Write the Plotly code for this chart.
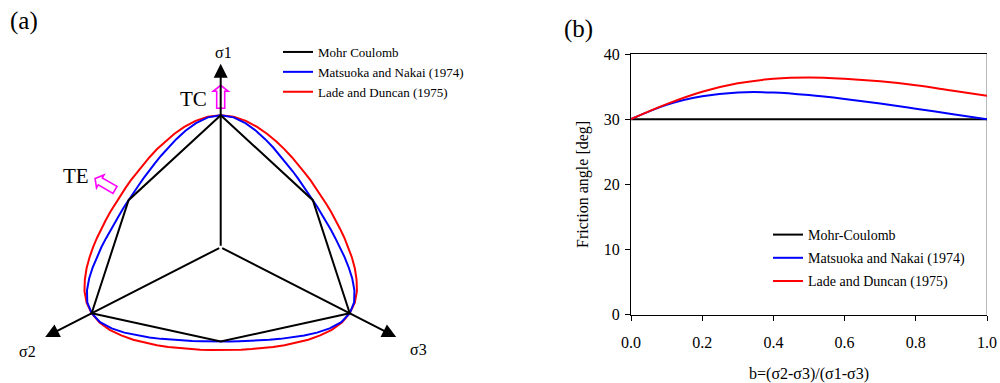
import numpy as np
import plotly.graph_objects as go

# ---------------- data ----------------
# Panel (a): deviatoric-plane radius (TC radius = 1) vs Lode angle from TC (0) to TE (60 deg)
lode_angle_deg = [0, 5, 10, 15, 20, 25, 30, 35, 40, 45, 50, 55, 60]
r_matsuoka_nakai = [1.000, 0.988, 0.955, 0.914, 0.872, 0.834, 0.801, 0.773, 0.752, 0.735, 0.723, 0.717, 0.714]
r_lade_duncan = [1.000, 0.993, 0.973, 0.944, 0.914, 0.884, 0.857, 0.833, 0.813, 0.798, 0.788, 0.781, 0.779]
r_mohr_coulomb_vertices = [1.000, 0.714]  # TC vertex, TE vertex
axis_labels = ["σ1", "σ2", "σ3"]
axis_direction_deg = [90, 210, 330]
axis_length = [1.39, 1.36, 1.36]

# Panel (b): friction angle vs b
b_values = [0.0, 0.1, 0.2, 0.3, 0.4, 0.5, 0.6, 0.7, 0.8, 0.9, 1.0]
phi_mohr_coulomb = [30.0, 30.0, 30.0, 30.0, 30.0, 30.0, 30.0, 30.0, 30.0, 30.0, 30.0]
phi_matsuoka_nakai = [30.0, 32.2, 33.5, 34.1, 34.1, 33.7, 33.1, 32.4, 31.6, 30.8, 30.0]
phi_lade_duncan = [30.0, 32.3, 34.2, 35.5, 36.2, 36.4, 36.2, 35.8, 35.2, 34.4, 33.6]

names_a = ["Mohr Coulomb", "Matsuoka and Nakai (1974)", "Lade and Duncan (1975)"]
names_b = ["Mohr-Coulomb", "Matsuoka and Nakai (1974)", "Lade and Duncan (1975)"]
colors = ["#000000", "#0000FF", "#FF0000"]

# ---------------- styling / layout constants ----------------
W, H = 1000, 383
FONT = "Liberation Serif, Times New Roman, serif"
A_DOMAIN_PX = 470
CX_PX, CY_PX = 220.7, 247.3      # centre of the deviatoric plot (pixels)
SX, SY = 149.0, 132.0            # pixels per unit (x, y)
xr_a = [-CX_PX / SX, (A_DOMAIN_PX - CX_PX) / SX]
yr_a = [-(H - CY_PX) / SY, CY_PX / SY]


def px(x):
    return x / W


def py(y):
    return 1 - y / H


def closed_loop(r_sector, step):
    half = list(r_sector) + list(r_sector[-2::-1])
    r = np.array(half[:-1] * 3 + [half[0]])
    ang = np.deg2rad(90 + step * np.arange(len(r)))
    return r * np.cos(ang), r * np.sin(ang)


def hollow_arrow(bx, by, ang_deg, L=23, sw=8, hw=15, hl=6):
    pts = [(0, -sw / 2), (L - hl, -sw / 2), (L - hl, -hw / 2), (L, 0),
           (L - hl, hw / 2), (L - hl, sw / 2), (0, sw / 2)]
    a = np.deg2rad(ang_deg)
    out = []
    for u, v in pts:
        dx = u * np.cos(a) - v * np.sin(a)
        dy = u * np.sin(a) + v * np.cos(a)
        out.append((bx + dx / SX, by + dy / SY))
    return "M " + " L ".join(f"{x:.5f},{y:.5f}" for x, y in out) + " Z"


def label(x, y, text, size):
    return dict(x=px(x), y=py(y), xref="paper", yref="paper", text=text,
                showarrow=False, xanchor="center", yanchor="middle",
                font=dict(family=FONT, size=size, color="black"))


fig = go.Figure()

# ---------------- panel (a) ----------------
step = lode_angle_deg[1] - lode_angle_deg[0]
for r_sec, name, col, rank in [(r_lade_duncan, names_a[2], colors[2], 3),
                               (r_matsuoka_nakai, names_a[1], colors[1], 2)]:
    x, y = closed_loop(r_sec, step)
    fig.add_trace(go.Scatter(x=x, y=y, mode="lines", name=name, legendrank=rank,
                             line=dict(color=col, width=2), xaxis="x", yaxis="y",
                             legend="legend", hoverinfo="skip"))

r_hex = np.array(r_mohr_coulomb_vertices * 3 + [r_mohr_coulomb_vertices[0]])
a_hex = np.deg2rad(90 + 60 * np.arange(len(r_hex)))
fig.add_trace(go.Scatter(x=r_hex * np.cos(a_hex), y=r_hex * np.sin(a_hex), mode="lines",
                         name=names_a[0], legendrank=1, line=dict(color=colors[0], width=2),
                         xaxis="x", yaxis="y", legend="legend", hoverinfo="skip"))

annotations = []
for d, L in zip(axis_direction_deg, axis_length):
    t = np.deg2rad(d)
    annotations.append(dict(x=L * np.cos(t), y=L * np.sin(t), ax=0, ay=0,
                            xref="x", yref="y", axref="x", ayref="y", text="",
                            showarrow=True, arrowhead=2, arrowsize=1.4, arrowwidth=2,
                            arrowcolor="black", standoff=0, startstandoff=0))

label_pos = [(223, 52), (27, 351), (418, 349)]
for lab, (lx, ly) in zip(axis_labels, label_pos):
    annotations.append(label(lx, ly, lab, 16))

annotations += [
    label(193, 99, "TC", 21),
    label(76, 176, "TE", 21),
    label(24, 21, "(a)", 25),
    label(578, 29, "(b)", 25),
]

shapes = []
# TC hollow arrow just above the TC vertex
shapes.append(dict(type="path", xref="x", yref="y",
                   path=hollow_arrow(0.0, r_mohr_coulomb_vertices[0] + 7 / SY, 90),
                   line=dict(color="#FF00FF", width=1.6), fillcolor="rgba(0,0,0,0)"))
# TE hollow arrow just outside the Lade-Duncan TE point (150 deg direction)
te = np.deg2rad(150)
bx = r_lade_duncan[-1] * np.cos(te) - 6 * np.cos(np.deg2rad(30)) / SX
by = r_lade_duncan[-1] * np.sin(te) + 6 * np.sin(np.deg2rad(30)) / SY + 3 / SY
shapes.append(dict(type="path", xref="x", yref="y", path=hollow_arrow(bx, by, 150),
                   line=dict(color="#FF00FF", width=1.6), fillcolor="rgba(0,0,0,0)"))

# ---------------- panel (b) ----------------
for yv, name, col, grp in [(phi_mohr_coulomb, names_b[0], colors[0], "g1"),
                           (phi_matsuoka_nakai, names_b[1], colors[1], "g2"),
                           (phi_lade_duncan, names_b[2], colors[2], "g3")]:
    fig.add_trace(go.Scatter(x=b_values, y=yv, mode="lines", name=name, legendgroup=grp,
                             line=dict(color=col, width=2, shape="spline", smoothing=1.0),
                             xaxis="x2", yaxis="y2", legend="legend2", hoverinfo="skip",
                             cliponaxis=False))

shapes.append(dict(type="line", xref="x2", yref="y2", x0=1, x1=1, y0=0, y1=40,
                   line=dict(color="#8c8c8c", width=1.2), layer="below"))

fig.update_layout(
    width=W, height=H, margin=dict(l=0, r=0, t=0, b=0, autoexpand=False),
    paper_bgcolor="white", plot_bgcolor="white",
    font=dict(family=FONT, color="black"),
    xaxis=dict(domain=[0, A_DOMAIN_PX / W], range=xr_a, visible=False, fixedrange=True),
    yaxis=dict(domain=[0, 1], range=yr_a, visible=False, fixedrange=True),
    xaxis2=dict(domain=[px(631), px(987)], anchor="y2", range=[0, 1], dtick=0.2,
                tickformat=".1f", ticks="outside", ticklen=5, tickwidth=1, tickcolor="black",
                showline=True, linecolor="black", linewidth=1.2, mirror=True,
                showgrid=False, zeroline=False, ticklabelstandoff=8, automargin=False,
                tickfont=dict(family=FONT, size=16, color="black"),
                title=dict(text="b=(σ2-σ3)/(σ1-σ3)", standoff=18,
                           font=dict(family=FONT, size=16, color="black"))),
    yaxis2=dict(domain=[py(314.7), py(54)], anchor="x2", range=[0, 40], dtick=10,
                ticks="outside", ticklen=5, tickwidth=1, tickcolor="black",
                showline=True, linecolor="black", linewidth=1.2, mirror=False,
                showgrid=False, zeroline=False, ticklabelstandoff=2, automargin=False,
                tickfont=dict(family=FONT, size=16, color="black"),
                title=dict(text="Friction angle [deg]", standoff=11,
                           font=dict(family=FONT, size=16, color="black"))),
    legend=dict(x=px(278), y=py(37), xanchor="left", yanchor="top",
                font=dict(family=FONT, size=13, color="black"),
                bgcolor="rgba(0,0,0,0)", borderwidth=0, traceorder="normal"),
    legend2=dict(x=px(768), y=py(219), xanchor="left", yanchor="top",
                 font=dict(family=FONT, size=14, color="black"),
                 bgcolor="rgba(0,0,0,0)", borderwidth=0, tracegroupgap=2,
                 traceorder="grouped"),
    annotations=annotations, shapes=shapes,
    showlegend=True, hovermode=False,
)

fig.write_html("out.html", config={"displayModeBar": False})
